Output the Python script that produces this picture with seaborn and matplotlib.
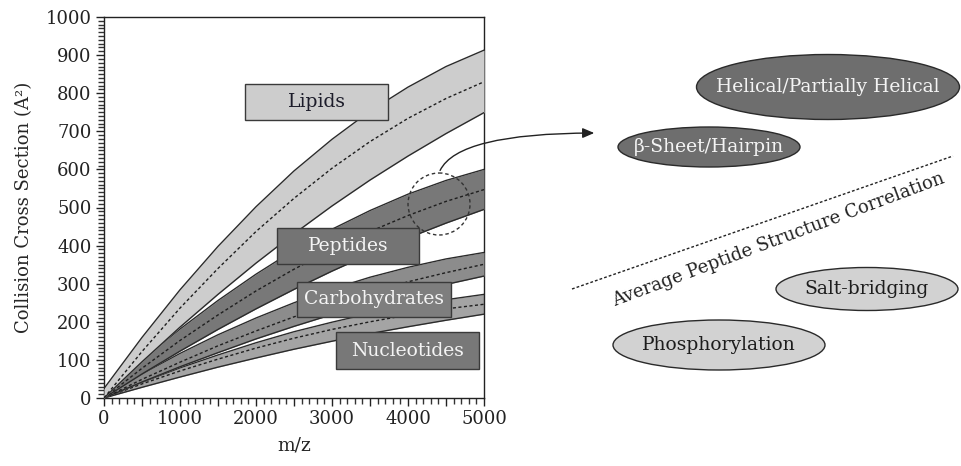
import numpy as np
import pandas as pd
import seaborn as sns
import matplotlib
matplotlib.use("Agg")
import matplotlib.pyplot as plt
from matplotlib.patches import Ellipse, Rectangle, FancyArrowPatch
from matplotlib.ticker import MultipleLocator, FixedLocator, FuncFormatter

# m/z positions at which each trend band is sampled
mz = [0, 500, 1000, 1500, 2000, 2500, 3000, 3500, 4000, 4500, 5000]

# Collision cross section (A^2): upper edge, centre trend, lower edge
lipids_upper = [25, 159, 284, 398, 502, 596, 679, 753, 816, 870, 913]
lipids_mid = [0, 122, 236, 340, 437, 524, 603, 673, 734, 786, 830]
lipids_lower = [0, 95, 186, 272, 354, 431, 504, 572, 635, 694, 749]

peptides_upper = [10, 99, 181, 256, 325, 388, 443, 492, 535, 571, 600]
peptides_mid = [0, 78, 151, 218, 281, 338, 390, 437, 479, 516, 547]
peptides_lower = [0, 63, 123, 180, 234, 285, 333, 378, 420, 459, 495]

carbs_upper = [5, 63, 117, 166, 210, 250, 286, 317, 343, 365, 382]
carbs_mid = [0, 49, 94, 137, 176, 213, 247, 277, 305, 329, 351]
carbs_lower = [0, 42, 82, 119, 155, 188, 219, 247, 274, 298, 320]

nucleo_upper = [0, 41, 79, 113, 145, 174, 199, 222, 242, 258, 272]
nucleo_mid = [0, 37, 71, 102, 131, 157, 180, 200, 218, 234, 246]
nucleo_lower = [0, 28, 55, 81, 105, 128, 149, 169, 187, 204, 220]

classes = ["Nucleotides", "Carbohydrates", "Peptides", "Lipids"]
bands = {
    "Lipids": (lipids_lower, lipids_mid, lipids_upper),
    "Peptides": (peptides_lower, peptides_mid, peptides_upper),
    "Carbohydrates": (carbs_lower, carbs_mid, carbs_upper),
    "Nucleotides": (nucleo_lower, nucleo_mid, nucleo_upper),
}

band_fill = {"Lipids": "#cdcdcd", "Peptides": "#787878",
             "Carbohydrates": "#8c8c8c", "Nucleotides": "#a4a4a4"}
box_fill = {"Lipids": "#cdcdcd", "Peptides": "#747474",
            "Carbohydrates": "#7e7e7e", "Nucleotides": "#787878"}
box_text = {"Lipids": "#1c1c2a", "Peptides": "#f4f4f4",
            "Carbohydrates": "#f4f4f4", "Nucleotides": "#f4f4f4"}
# label boxes in data units: (x0, x1, y0, y1)
box_extent = {"Lipids": (1855, 3737, 729, 824),
              "Peptides": (2276, 4145, 352, 446),
              "Carbohydrates": (2539, 4566, 213, 305),
              "Nucleotides": (3053, 4934, 77, 172)}

sns.set_theme(style="ticks")
plt.rcParams["font.family"] = ["DejaVu Serif"]
plt.rcParams["text.color"] = "#222222"

fig = plt.figure(figsize=(9.61, 4.66), dpi=100)
ax = fig.add_axes([104 / 961, 68 / 466, 380 / 961, 381 / 466])

for i, name in enumerate(classes):
    lo, mid, up = bands[name]
    z = 2 + i
    ax.fill_between(mz, lo, up, color=band_fill[name], lw=0, zorder=z)
    sns.lineplot(x=mz, y=up, ax=ax, color="#2b2b2b", lw=1.0, zorder=z + 0.1)
    sns.lineplot(x=mz, y=lo, ax=ax, color="#2b2b2b", lw=1.0, zorder=z + 0.1)
    sns.lineplot(x=mz, y=mid, ax=ax, color="#1e1e1e", lw=1.0,
                 linestyle=(0, (2.2, 1.8)), zorder=z + 0.2)

for name in classes:
    x0, x1, y0, y1 = box_extent[name]
    ax.add_patch(Rectangle((x0, y0), x1 - x0, y1 - y0, facecolor=box_fill[name],
                           edgecolor="#3a3a3a", lw=1.0, zorder=10))
    ax.text((x0 + x1) / 2, (y0 + y1) / 2, name, ha="center", va="center",
            fontsize=13.5, color=box_text[name], zorder=11)

ax.set_xlim(0, 5000)
ax.set_ylim(0, 1000)
ax.xaxis.set_major_locator(MultipleLocator(500))
ax.xaxis.set_major_formatter(FuncFormatter(
    lambda v, _: f"{int(v)}" if int(v) % 1000 == 0 else ""))
ax.xaxis.set_minor_locator(FixedLocator(np.arange(0, 5001, 100)))
ax.yaxis.set_major_locator(MultipleLocator(100))
ax.yaxis.set_minor_locator(FixedLocator(np.arange(0, 1001, 10)))
ax.tick_params(axis="both", which="major", direction="out", length=6,
               width=1.0, labelsize=13, color="#222222",
               labelcolor="#222222", pad=3)
ax.tick_params(axis="both", which="minor", direction="out", length=4,
               width=1.0, color="#333333", bottom=True, left=True)
for side in ["top", "right", "left", "bottom"]:
    ax.spines[side].set_visible(True)
    ax.spines[side].set_color("#222222")
    ax.spines[side].set_linewidth(1.0)
ax.set_xlabel("m/z", fontsize=13.5, labelpad=6)
ax.set_ylabel("Collision Cross Section (A²)", fontsize=13, labelpad=9)

# Right-hand schematic, laid out in figure pixels
ov = fig.add_axes([0, 0, 1, 1], zorder=5)
ov.set_xlim(0, 961)
ov.set_ylim(466, 0)
ov.axis("off")
ov.patch.set_alpha(0)

ov.add_patch(Ellipse((439, 204), 62, 62, fill=False, edgecolor="#333333",
                     lw=1.0, linestyle=(0, (2.5, 2))))
ov.add_patch(FancyArrowPatch((439, 173), (597, 133),
                             connectionstyle="angle3,angleA=70,angleB=0",
                             arrowstyle="-|>,head_length=7,head_width=3",
                             color="#222222", lw=1.0))

structures = [
    ("Helical/Partially Helical", (828, 87), 263, 65, "#6e6e6e", "#f4f4f4"),
    ("β-Sheet/Hairpin", (709, 147), 182, 40, "#6e6e6e", "#f4f4f4"),
    ("Salt-bridging", (867, 289), 182, 43, "#d2d2d2", "#1c1c1c"),
    ("Phosphorylation", (719, 345), 212, 50, "#d2d2d2", "#1c1c1c"),
]
for label, (cx, cy), w, h, fc, tc in structures:
    ov.add_patch(Ellipse((cx, cy), w, h, facecolor=fc, edgecolor="#2a2a2a", lw=1.0))
    ov.text(cx, cy, label, ha="center", va="center", fontsize=13.5, color=tc)

ov.plot([572, 953], [289, 156], color="#222222", lw=1.0, linestyle=(0, (2, 1.5)))
ov.text(778, 240, "Average Peptide Structure Correlation", rotation=20.5,
        rotation_mode="anchor", ha="center", va="center", fontsize=13,
        color="#222222")

fig.savefig("out.png", dpi=100)
